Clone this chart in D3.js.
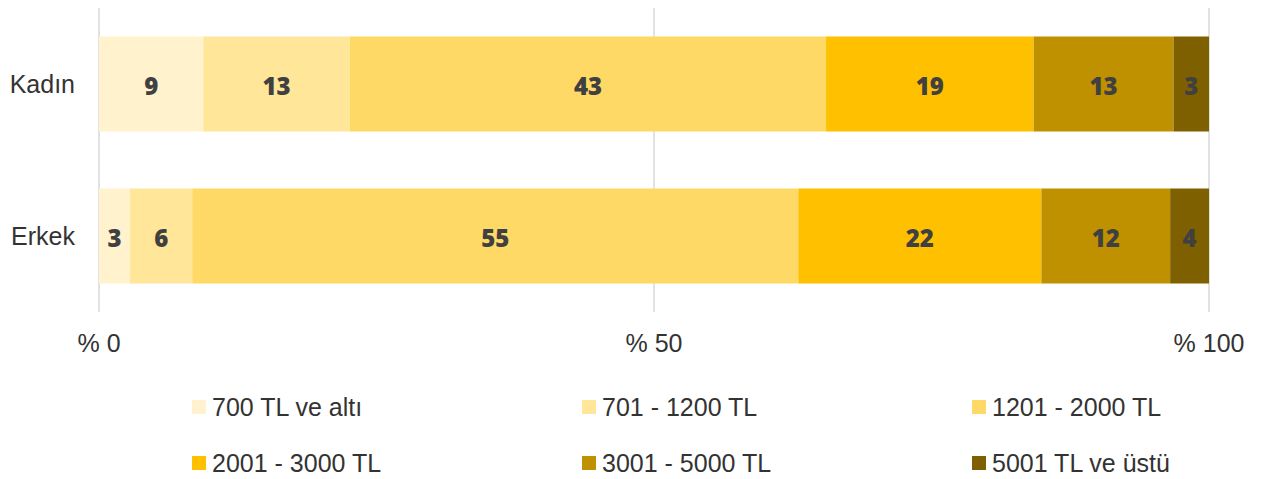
<!DOCTYPE html>
<html><head><meta charset="utf-8">
<script src="https://cdn.jsdelivr.net/npm/d3@7"></script>
<style>body{margin:0;background:#fff}text{font-family:"Liberation Sans",Arial,sans-serif}</style>
</head><body><svg id="c" width="1267" height="479"></svg>
<script>
const categories = ["Kadın", "Erkek"];
const seriesNames = ["700 TL ve altı", "701 - 1200 TL", "1201 - 2000 TL", "2001 - 3000 TL", "3001 - 5000 TL", "5001 TL ve üstü"];
const kadin = [9.4, 13.2, 42.9, 18.7, 12.6, 3.2];
const erkek = [2.8, 5.6, 54.6, 21.9, 11.6, 3.5];
const kadinLabels = [9, 13, 43, 19, 13, 3];
const erkekLabels = [3, 6, 55, 22, 12, 4];
const tickValues = [0, 50, 100];
const tickLabels = ["% 0", "% 50", "% 100"];
const colors = ["#FFF2CC", "#FFE699", "#FFD966", "#FFC000", "#BF9000", "#7F6000"];

const svg = d3.select("#c");
const x = d3.scaleLinear().domain([0, 100]).range([99, 1209]);
const y = d3.scaleBand().domain(categories).range([8, 312]).paddingInner(0.375).paddingOuter(0.1875);

// gridlines
svg.append("g").selectAll("line").data(tickValues).join("line")
  .attr("x1", d => x(d)).attr("x2", d => x(d)).attr("y1", 8).attr("y2", 312)
  .attr("stroke", "#d9d9d9").attr("stroke-width", 1.5);

const rows = [{cat: "Kadın", vals: kadin, labels: kadinLabels}, {cat: "Erkek", vals: erkek, labels: erkekLabels}];
rows.forEach(r => {
  let cum = 0;
  const segs = r.vals.map((v, i) => { const s = {x0: cum, x1: cum + v, i, label: r.labels[i]}; cum += v; return s; });
  const g = svg.append("g");
  g.selectAll("rect").data(segs).join("rect")
    .attr("x", d => x(d.x0)).attr("width", d => x(d.x1) - x(d.x0))
    .attr("y", y(r.cat)).attr("height", y.bandwidth())
    .attr("fill", d => colors[d.i]);
  g.selectAll("text").data(segs).join("text")
    .attr("x", d => (x(d.x0) + x(d.x1)) / 2).attr("y", y(r.cat) + y.bandwidth() / 2 + 1)
    .attr("text-anchor", "middle").attr("dominant-baseline", "central")
    .attr("font-size", 24).attr("font-weight", 800).attr("fill", "#404040")
    .style("font-family", "'Open Sans', 'Liberation Sans', sans-serif")
    .text(d => d.label);
});

// category labels
svg.append("g").selectAll("text").data(categories).join("text")
  .attr("x", 75).attr("y", d => y(d) + y.bandwidth() / 2)
  .attr("text-anchor", "end").attr("dominant-baseline", "central")
  .attr("font-size", 25).attr("fill", "#333")
  .text(d => d);

// x tick labels
svg.append("g").selectAll("text").data(tickValues).join("text")
  .attr("x", d => x(d)).attr("y", 343)
  .attr("text-anchor", "middle").attr("dominant-baseline", "central")
  .attr("font-size", 25).attr("fill", "#333")
  .text((d, i) => tickLabels[i]);

// legend
const lx = [192, 582, 972], ly = [407, 463];
const lg = svg.append("g").selectAll("g").data(seriesNames).join("g")
  .attr("transform", (d, i) => `translate(${lx[i % 3]},${ly[Math.floor(i / 3)]})`);
lg.append("rect").attr("x", 0).attr("y", -7).attr("width", 14).attr("height", 14).attr("fill", (d, i) => colors[i]);
lg.append("text").attr("x", 20).attr("y", 0).attr("dominant-baseline", "central")
  .attr("font-size", 25).attr("fill", "#333").text(d => d);
</script></body></html>
